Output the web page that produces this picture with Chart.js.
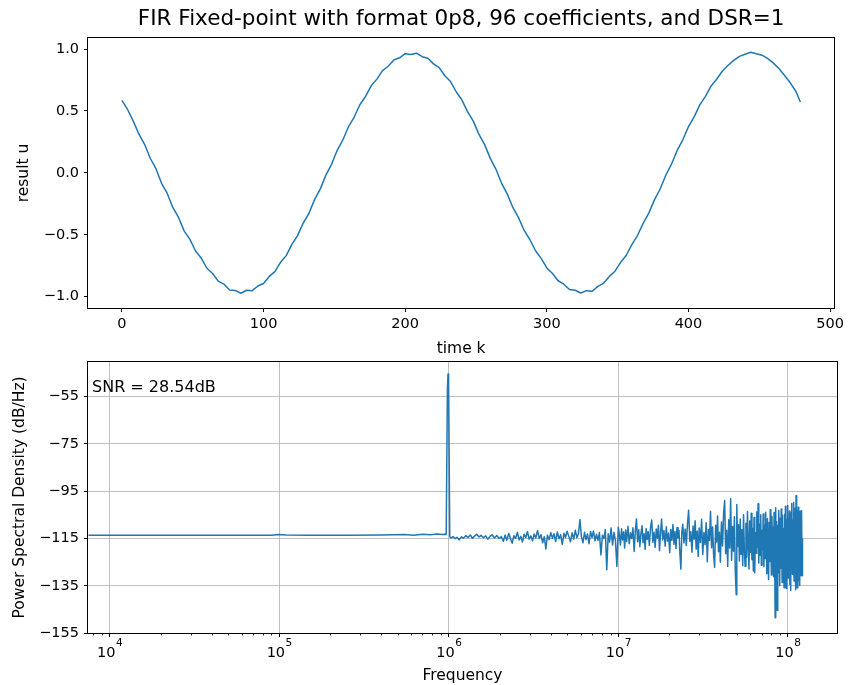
<!DOCTYPE html>
<html>
<head>
<meta charset="utf-8">
<title>FIR Fixed-point 0p8</title>
<script src="https://cdn.jsdelivr.net/npm/chart.js@4.4.1/dist/chart.umd.min.js"></script>
<style>
  body { margin: 0; background: #fff; }
  #wrap { position: relative; width: 848px; height: 685px; background: #fff; }
  #timeChart { position: absolute; left: 0; top: 0; }
  #psdChart { position: absolute; left: 0; top: 355px; }
</style>
</head>
<body>
<div id="wrap">
  <canvas id="timeChart" width="848" height="365"></canvas>
  <canvas id="psdChart" width="848" height="330"></canvas>
</div>
<script>
// filter output u[k], every 4th sample
const timeK = [
  0, 4, 8, 12, 16, 20, 24, 28, 32, 36, 40, 44, 48, 52, 56, 60, 64, 68, 72, 76,
  80, 84, 88, 92, 96, 100, 104, 108, 112, 116, 120, 124, 128, 132, 136, 140, 144, 148, 152, 156,
  160, 164, 168, 172, 176, 180, 184, 188, 192, 196, 200, 204, 208, 212, 216, 220, 224, 228, 232, 236,
  240, 244, 248, 252, 256, 260, 264, 268, 272, 276, 280, 284, 288, 292, 296, 300, 304, 308, 312, 316,
  320, 324, 328, 332, 336, 340, 344, 348, 352, 356, 360, 364, 368, 372, 376, 380, 384, 388, 392, 396,
  400, 404, 408, 412, 416, 420, 424, 428, 432, 436, 440, 444, 448, 452, 456, 460, 464, 468, 472, 476, 479
];
const resultU = [
  0.585, 0.512, 0.418, 0.312, 0.231, 0.118, 0.034, -0.084, -0.166, -0.281,
  -0.360, -0.470, -0.537, -0.631, -0.688, -0.770, -0.812, -0.874, -0.898, -0.946,
  -0.949, -0.972, -0.948, -0.951, -0.913, -0.893, -0.836, -0.797, -0.722, -0.668,
  -0.578, -0.507, -0.405, -0.328, -0.216, -0.131, -0.018, 0.069, 0.182, 0.266,
  0.374, 0.451, 0.550, 0.617, 0.703, 0.757, 0.826, 0.861, 0.912, 0.929,
  0.962, 0.955, 0.966, 0.938, 0.926, 0.880, 0.850, 0.784, 0.737, 0.655,
  0.590, 0.494, 0.420, 0.313, 0.230, 0.119, 0.031, -0.082, -0.169, -0.279,
  -0.361, -0.465, -0.538, -0.629, -0.690, -0.768, -0.813, -0.871, -0.899, -0.942,
  -0.948, -0.970, -0.951, -0.956, -0.916, -0.892, -0.838, -0.796, -0.724, -0.667,
  -0.579, -0.506, -0.408, -0.325, -0.218, -0.130, -0.019, 0.070, 0.181, 0.267,
  0.373, 0.452, 0.549, 0.618, 0.702, 0.758, 0.823, 0.869, 0.908, 0.941,
  0.958, 0.974, 0.962, 0.950, 0.922, 0.886, 0.840, 0.784, 0.725, 0.655, 0.572
];
const timeTicks = [0, 100, 200, 300, 400, 500];
const uTicks = [-1.0, -0.5, 0.0, 0.5, 1.0];

// PSD of the output, frequency in MHz
const psdFreqMHz = [
  0.0075, 0.012, 0.02, 0.035, 0.06, 0.09, 0.1, 0.11, 0.15, 0.25, 0.4, 0.55, 0.62, 0.7, 0.78, 0.85, 0.92, 0.95,
  0.966, 0.982, 0.99, 0.998, 1.014,
  1.03, 1.06, 1.09, 1.12, 1.15, 1.19, 1.22, 1.26, 1.30, 1.34, 1.38, 1.42, 1.46, 1.51, 1.55, 1.60, 1.65, 1.70, 1.75, 1.80, 1.86, 1.92, 1.98, 2.04,
  2.10, 2.15, 2.20, 2.26, 2.31, 2.37, 2.42, 2.48, 2.54, 2.60, 2.66, 2.72, 2.78, 2.85, 2.91, 2.98, 3.05, 3.12, 3.19, 3.26,
  3.34, 3.42, 3.50, 3.58, 3.66, 3.74, 3.82, 3.91, 4.00, 4.09, 4.18, 4.27, 4.37, 4.47, 4.57, 4.67, 4.78, 4.88, 4.99,
  5.10, 5.22, 5.34, 5.46, 5.58, 5.70, 5.82, 5.94, 6.06, 6.19, 6.32, 6.45, 6.58, 6.72, 6.86, 7.00, 7.14, 7.29, 7.44, 7.59,
  7.74, 7.90, 8.06, 8.22, 8.38, 8.55, 8.72, 8.89, 9.07, 9.25, 9.43, 9.62, 9.81, 10.0,
  10.15, 10.3, 10.45, 10.6, 10.75, 10.9, 11.05, 11.2, 11.4, 11.6, 11.8, 12.0, 12.2, 12.4, 12.6, 12.8, 13.0, 13.2, 13.4, 13.6,
  13.8, 14.0, 14.2, 14.4, 14.6, 14.8, 15.0, 15.25, 15.5, 15.75, 16.0, 16.25, 16.5, 16.75, 17.0, 17.25, 17.5, 17.75, 18.0, 18.3,
  18.6, 18.9, 19.2, 19.5, 19.8, 20.1, 20.4, 20.7, 21.0, 21.3, 21.6, 21.9, 22.2, 22.5, 22.8, 23.1, 23.4, 23.7, 24.0, 24.4,
  24.8, 25.2, 25.6, 26.0, 26.4, 26.8, 27.2, 27.6, 28.0, 28.4, 28.8, 29.2, 29.6, 30.0, 30.5, 31.0, 31.5, 32.0, 32.5, 33.0,
  33.5, 34.0, 34.5, 35.0, 35.5, 36.0, 36.5, 37.0, 37.5, 38.0, 38.5, 39.0, 39.5, 40.0, 40.6, 41.2, 41.8, 42.4, 43.0, 43.6,
  44.2, 44.8, 45.4, 46.0, 46.6, 47.2, 47.8, 48.4, 49.0, 49.6,
  50.0, 50.6, 51.2, 51.8, 52.4, 53.0, 53.6, 54.2, 54.8, 55.4, 56.0, 56.6, 57.2, 57.8, 58.4, 59.0, 59.6, 60.2, 60.8, 61.4,
  62.0, 62.6, 63.2, 63.8, 64.4, 65.0, 65.6, 66.2, 66.8, 67.4, 68.0, 68.6, 69.2, 69.8, 70.4, 71.0, 71.6, 72.2, 72.8, 73.4,
  74.0, 74.6, 75.2, 75.8, 76.4, 77.0, 77.6, 78.2, 78.8, 79.4, 80.0, 80.6, 81.2, 81.8, 82.4, 83.0, 83.6, 84.2, 84.8, 85.4,
  86.0, 86.6, 87.2, 87.8, 88.4, 89.0, 89.6, 90.2, 90.8, 91.4, 92.0, 92.6, 93.2, 93.8, 94.4, 95.0, 95.6, 96.2, 96.8, 97.4,
  98.0, 98.6, 99.2, 99.8, 100.4, 101.0, 101.6, 102.2, 102.8, 103.4, 104.0, 104.6, 105.2, 105.8, 106.4, 107.0, 107.6, 108.2, 108.8, 109.4,
  110.0, 110.6, 111.2, 111.8, 112.4, 113.0, 113.6, 114.2, 114.8, 115.4, 116.0, 116.6, 117.2, 117.8, 118.4, 119.0, 119.6, 120.2, 120.8, 121.4, 122.0
];
const psdDb = [
  -113.6, -113.6, -113.6, -113.6, -113.6, -113.6, -113.3, -113.5, -113.6, -113.6, -113.5, -113.3, -113.6, -113.2, -113.4, -113.1, -113.3, -113.2,
  -113.3, -52.0, -45.4, -50.5, -114.3,
  -114.8, -114.2, -115.1, -114.5, -115.6, -114.3, -114.9, -113.8, -114.6, -113.5, -114.9, -114.0, -113.2, -114.4, -113.6, -114.7, -113.9, -115.3, -114.1, -113.4, -114.8, -113.7, -115.0, -114.2,
  -116.2, -113.5, -115.8, -112.9, -115.0, -117.0, -113.8, -114.9, -112.4, -115.6, -114.1, -116.5, -113.2, -114.6, -112.0, -115.3, -113.9, -116.0, -113.1, -114.8,
  -111.6, -115.0, -113.4, -116.8, -114.2, -119.4, -113.6, -115.5, -112.5, -114.9, -113.0, -116.3, -112.2, -115.1, -113.4, -117.5, -112.8, -114.6, -111.9,
  -114.0, -116.4, -112.6, -115.2, -111.5, -114.7, -113.0, -107.0, -114.2, -116.8, -112.4, -115.5, -113.1, -117.2, -112.0, -114.6, -111.8, -116.0, -113.2, -115.8,
  -112.5, -122.0, -113.6, -115.0, -111.2, -128.2, -113.0, -116.5, -110.6, -117.8, -112.4, -115.9, -126.8, -110.2,
  -113.5, -117.8, -110.9, -115.6, -112.2, -119.0, -111.4, -116.3, -109.8, -117.2, -112.6, -115.0, -110.5, -120.5, -112.0, -106.7, -116.4, -111.3, -118.5, -112.9,
  -109.6, -116.8, -113.0, -119.6, -110.8, -115.4, -112.1, -117.9, -110.2, -107.2, -116.6, -112.4, -118.8, -111.0, -114.9, -109.4, -120.2, -112.8, -106.8, -115.6,
  -111.6, -118.3, -110.0, -116.1, -112.7, -121.0, -111.2, -115.8, -109.1, -117.4, -112.0, -119.2, -110.4, -114.7, -111.5, -121.5, -128.0, -112.3, -109.0, -116.9,
  -111.0, -118.0, -108.6, -103.0, -116.2, -112.1, -120.8, -109.7, -115.3, -107.5, -119.5, -111.8, -122.6, -110.6, -116.7, -106.9, -121.8, -112.5, -117.6, -108.3,
  -124.8, -111.2, -115.8, -103.5, -118.9, -110.1, -122.0, -127.2, -109.4, -116.5, -105.5, -120.6, -112.4, -125.0, -108.0, -118.2, -104.2, -98.9, -121.4, -111.5,
  -126.8, -107.1, -119.0, -98.2, -124.2, -109.9, -120.4, -105.8, -128.6, -138.8,
  -100.6, -118.4, -109.2, -124.5, -106.8, -121.7, -111.3, -126.5, -104.9, -119.6, -126.8, -108.5, -122.9, -103.6, -117.3, -127.9, -107.6, -120.8, -104.3, -124.0,
  -110.7, -128.8, -106.1, -129.5, -112.5, -121.2, -103.8, -118.7, -100.3, -125.4, -108.9, -122.1, -105.0, -126.3, -111.6, -119.9, -104.6, -127.0, -109.3, -123.5,
  -103.9, -118.1, -129.9, -106.5, -121.6, -132.4, -108.2, -124.7, -102.8, -119.3, -130.5, -105.7, -125.8, -110.2, -131.2, -104.0, -122.6, -148.5, -102.0, -126.1,
  -107.9, -145.5, -109.6, -129.4, -103.2, -121.0, -135.0, -106.4, -127.6, -102.5, -120.3, -133.6, -105.2, -124.9, -110.8, -135.8, -104.7, -128.1, -101.4, -122.2,
  -136.2, -107.0, -126.9, -101.0, -131.7, -106.3, -123.8, -103.4, -134.5, -108.7, -137.0, -104.1, -125.3, -100.2, -130.1, -107.4, -121.9, -99.8, -133.0, -105.9,
  -127.3, -102.1, -136.7, -96.9, -124.4, -108.0, -135.9, -103.0, -129.0, -101.8, -132.8, -106.9, -124.1, -134.9, -103.5, -130.8, -105.0, -127.5, -103.3, -130.8, -115.0
];
const freqTicks = [1e4, 1e5, 1e6, 1e7, 1e8];
const freqExponents = ['4', '5', '6', '7', '8'];
const dbTicks = [-155, -135, -115, -95, -75, -55];
const snrText = 'SNR = 28.54dB';
const titleText = 'FIR Fixed-point with format 0p8, 96 coefficients, and DSR=1';

Chart.defaults.font.family = "'DejaVu Sans', sans-serif";
Chart.defaults.color = '#000';

const lineBlue = '#1f77b4';
const gridGray = '#b0b0b0';
const tickSize = 14.5;

// full black box around the plot area
const axesFrame = {
    id: 'axesFrame',
    afterDatasetsDraw(chart) {
        const a = chart.chartArea;
        const ctx = chart.ctx;
        ctx.save();
        ctx.strokeStyle = '#000';
        ctx.lineWidth = 1;
        ctx.strokeRect(Math.round(a.left) - 0.5, Math.round(a.top) - 0.5,
            Math.round(a.right - a.left) + 1, Math.round(a.bottom - a.top) + 1);
        ctx.restore();
    }
};

// figure title above the top axes
const figTitle = {
    id: 'figTitle',
    afterDraw(chart) {
        const a = chart.chartArea;
        const ctx = chart.ctx;
        ctx.save();
        ctx.font = "21.5px 'DejaVu Sans'";
        ctx.fillStyle = '#000';
        ctx.textAlign = 'center';
        ctx.textBaseline = 'alphabetic';
        ctx.fillText(titleText, (a.left + a.right) / 2, 25);
        ctx.restore();
    }
};

// SNR note in the upper left corner of the PSD axes
const snrNote = {
    id: 'snrNote',
    afterDraw(chart) {
        const a = chart.chartArea;
        const ctx = chart.ctx;
        ctx.save();
        ctx.font = "16px 'DejaVu Sans'";
        ctx.fillStyle = '#000';
        ctx.textAlign = 'left';
        ctx.textBaseline = 'middle';
        ctx.fillText(snrText, a.left + 4, a.top + 26);
        ctx.restore();
    }
};

// minor ticks 2..9 of every decade and "10^n" labels with a raised exponent
const logAxisDecor = {
    id: 'logAxisDecor',
    afterDraw(chart) {
        const xs = chart.scales.x;
        const a = chart.chartArea;
        const ctx = chart.ctx;
        ctx.save();
        ctx.strokeStyle = '#000';
        ctx.lineWidth = 0.8;
        for (let dec = 1e3; dec <= 1e8; dec *= 10) {
            for (let m = 2; m <= 9; m++) {
                const v = dec * m;
                if (v < xs.min || v > xs.max) continue;
                const px = Math.round(xs.getPixelForValue(v)) + 0.5;
                ctx.beginPath();
                ctx.moveTo(px, a.bottom);
                ctx.lineTo(px, a.bottom + 2.5);
                ctx.stroke();
            }
        }
        ctx.fillStyle = '#000';
        ctx.textAlign = 'left';
        ctx.textBaseline = 'alphabetic';
        const baseFont = tickSize + "px 'DejaVu Sans'";
        const expFont = "10.5px 'DejaVu Sans'";
        freqTicks.forEach((v, i) => {
            const px = xs.getPixelForValue(v);
            ctx.font = baseFont;
            const wBase = ctx.measureText('10').width;
            ctx.font = expFont;
            const wExp = ctx.measureText(freqExponents[i]).width;
            const x0 = px - (wBase + wExp) / 2;
            ctx.font = baseFont;
            ctx.fillText('10', x0, a.bottom + 23.5);
            ctx.font = expFont;
            ctx.fillText(freqExponents[i], x0 + wBase + 0.5, a.bottom + 12.5);
        });
        ctx.restore();
    }
};

function minusLabel(v, digits) {
    const s = Math.abs(v).toFixed(digits);
    return v < 0 ? '\u2212' + s : s;
}

// keep the plot area where the layout padding puts it, not pushed by label overhang
function fixVertical(s) {
    s.width = 88;
    s.paddingTop = 0;
    s.paddingBottom = 0;
}

const timeData = timeK.map((k, i) => ({ x: k, y: resultU[i] }));

new Chart(document.getElementById('timeChart'), {
    type: 'line',
    data: {
        datasets: [{
            data: timeData,
            borderColor: lineBlue,
            borderWidth: 1.5,
            pointRadius: 0,
            tension: 0,
            borderJoinStyle: 'round'
        }]
    },
    options: {
        responsive: false,
        animation: false,
        layout: { padding: { top: 38, right: 11, left: 0, bottom: 0 } },
        plugins: { legend: { display: false }, tooltip: { enabled: false } },
        scales: {
            x: {
                type: 'linear',
                min: -23.95,
                max: 502.95,
                afterBuildTicks: s => { s.ticks = timeTicks.map(v => ({ value: v })); },
                afterFit: s => { s.height = 57; },
                border: { display: false },
                grid: { drawOnChartArea: false, drawTicks: true, tickLength: 4, tickColor: '#000', tickWidth: 1 },
                ticks: { font: { size: tickSize }, padding: 4, maxRotation: 0, callback: v => String(v) },
                title: { display: true, text: 'time k', font: { size: 15.5 }, padding: { top: 0, bottom: 6.5 } }
            },
            y: {
                type: 'linear',
                min: -1.091,
                max: 1.089,
                afterBuildTicks: s => { s.ticks = uTicks.map(v => ({ value: v })); },
                afterFit: fixVertical,
                border: { display: false },
                grid: { drawOnChartArea: false, drawTicks: true, tickLength: 4, tickColor: '#000', tickWidth: 1 },
                ticks: { font: { size: tickSize }, padding: 5, callback: v => minusLabel(v, 1) },
                title: { display: true, text: 'result u', font: { size: 15.5 }, padding: { top: 15, bottom: 0 } }
            }
        }
    },
    plugins: [axesFrame, figTitle]
});

const psdData = psdFreqMHz.map((f, i) => ({ x: f * 1e6, y: psdDb[i] }));

new Chart(document.getElementById('psdChart'), {
    type: 'line',
    data: {
        datasets: [{
            data: psdData,
            borderColor: lineBlue,
            borderWidth: 1.5,
            pointRadius: 0,
            tension: 0,
            borderJoinStyle: 'round'
        }]
    },
    options: {
        responsive: false,
        animation: false,
        layout: { padding: { top: 7, right: 11, left: 0, bottom: 0 } },
        plugins: { legend: { display: false }, tooltip: { enabled: false } },
        scales: {
            x: {
                type: 'logarithmic',
                min: 7450,
                max: 1.95e8,
                afterBuildTicks: s => { s.ticks = freqTicks.map(v => ({ value: v })); },
                afterFit: s => { s.height = 52; },
                border: { display: false },
                grid: { color: gridGray, lineWidth: 0.8, drawTicks: true, tickLength: 4, tickColor: '#000', tickWidth: 1 },
                ticks: { font: { size: tickSize }, padding: 4, maxRotation: 0, callback: () => '' },
                title: { display: true, text: 'Frequency', font: { size: 15.5 }, padding: { top: 0, bottom: -0.5 } }
            },
            y: {
                type: 'linear',
                min: -155,
                max: -40.3,
                afterBuildTicks: s => { s.ticks = dbTicks.map(v => ({ value: v })); },
                afterFit: fixVertical,
                border: { display: false },
                grid: { color: gridGray, lineWidth: 0.8, drawTicks: true, tickLength: 4, tickColor: '#000', tickWidth: 1 },
                ticks: { font: { size: tickSize }, padding: 5, callback: v => minusLabel(v, 0) },
                title: { display: true, text: 'Power Spectral Density (dB/Hz)', font: { size: 15.5 }, padding: { top: 10.5, bottom: 0 } }
            }
        }
    },
    plugins: [axesFrame, snrNote, logAxisDecor]
});
</script>
</body>
</html>
